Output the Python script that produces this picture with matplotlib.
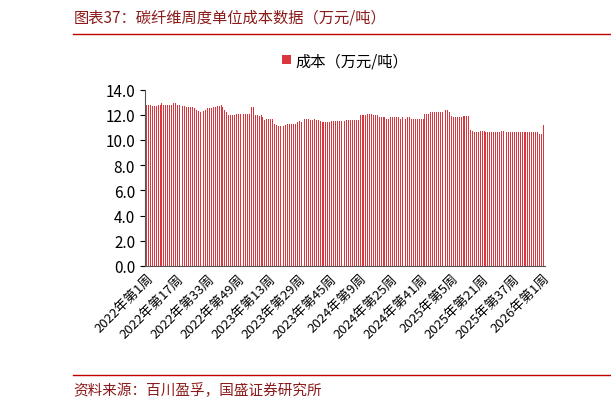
import matplotlib.pyplot as plt

plt.rcParams['font.family'] = ['Noto Sans CJK SC', 'DejaVu Sans']

# weekly cost, 2022 week 1 .. 2026 week 1 (209 weeks)
cost_2022 = [12.8, 12.8, 12.8, 12.7, 12.7, 12.7, 12.8, 12.8, 12.9, 12.8, 12.8, 12.8, 12.8,
             12.8, 12.9, 12.9, 12.8, 12.8, 12.7, 12.7, 12.7, 12.6, 12.6, 12.6, 12.6, 12.5,
             12.4, 12.3, 12.2, 12.2, 12.3, 12.4, 12.5, 12.5, 12.5, 12.6, 12.6, 12.7, 12.7,
             12.8, 12.6, 12.4, 12.2, 12.0, 12.0, 12.0, 12.0, 12.1, 12.1, 12.1, 12.1, 12.1]
cost_2023 = [12.1, 12.1, 12.1, 12.6, 12.6, 12.0, 12.0, 11.9, 12.0, 11.8, 11.6, 11.7, 11.7,
             11.7, 11.7, 11.3, 11.2, 11.1, 11.1, 11.1, 11.1, 11.2, 11.3, 11.3, 11.3, 11.3,
             11.3, 11.4, 11.5, 11.4, 11.4, 11.7, 11.7, 11.7, 11.6, 11.6, 11.7, 11.6, 11.6,
             11.5, 11.4, 11.4, 11.4, 11.4, 11.4, 11.5, 11.5, 11.5, 11.5, 11.5, 11.5, 11.5]
cost_2024 = [11.5, 11.6, 11.6, 11.6, 11.6, 11.6, 11.6, 11.6, 12.0, 12.0, 12.0, 12.0, 12.1,
             12.1, 12.1, 12.0, 12.0, 12.0, 11.8, 11.8, 11.8, 11.8, 11.7, 11.7, 11.8, 11.8,
             11.8, 11.8, 11.8, 11.7, 11.8, 11.7, 11.7, 11.8, 11.8, 11.7, 11.7, 11.7, 11.7,
             11.7, 11.7, 11.7, 12.1, 12.1, 12.1, 12.2, 12.2, 12.2, 12.2, 12.2, 12.2, 12.2]
cost_2025 = [12.3, 12.4, 12.4, 12.2, 11.9, 11.8, 11.8, 11.8, 11.8, 11.8, 11.9, 11.9, 11.9,
             11.9, 10.8, 10.7, 10.6, 10.6, 10.6, 10.7, 10.7, 10.7, 10.6, 10.6, 10.6, 10.6,
             10.6, 10.6, 10.6, 10.6, 10.7, 10.7, 10.7, 10.6, 10.6, 10.6, 10.6, 10.6, 10.6,
             10.6, 10.6, 10.6, 10.6, 10.6, 10.6, 10.6, 10.6, 10.6, 10.6, 10.6, 10.5, 10.5]
cost_2026 = [11.2]
cost = cost_2022 + cost_2023 + cost_2024 + cost_2025 + cost_2026

tick_pos = list(range(0, len(cost), 16))
tick_labels = ['2022年第1周', '2022年第17周', '2022年第33周', '2022年第49周',
               '2023年第13周', '2023年第29周', '2023年第45周',
               '2024年第9周', '2024年第25周', '2024年第41周',
               '2025年第5周', '2025年第21周', '2025年第37周', '2026年第1周']

fig = plt.figure(figsize=(6.11, 4.10), dpi=100)
ax = fig.add_axes([0.237, 0.349, 0.655, 0.43])
ax.bar(range(len(cost)), cost, width=0.5, color='#d9363e', label='成本（万元/吨）')
ax.set_xlim(-1, len(cost))
ax.set_ylim(0, 14)
ax.set_yticks([0, 2, 4, 6, 8, 10, 12, 14])
ax.set_yticklabels([f'{v:.1f}' for v in range(0, 15, 2)], fontsize=11)
ax.set_xticks(tick_pos)
ax.set_xticklabels(tick_labels, rotation=45, ha='right', rotation_mode='anchor', fontsize=9.5)
ax.tick_params(axis='x', length=0, pad=4)
for s in ['top', 'right']:
    ax.spines[s].set_visible(False)
ax.spines['bottom'].set_color('#555555')
ax.spines['left'].set_color('#555555')
ax.legend(loc='center', bbox_to_anchor=(0.5, 1.165), frameon=False, fontsize=11,
          handlelength=0.6, handleheight=0.6, handletextpad=0.3)

fig.text(0.12, 0.955, '图表37：碳纤维周度单位成本数据（万元/吨）', fontsize=11, color='#8b1a1a',
         style='italic', va='center')
fig.add_artist(plt.Line2D([0.12, 1.0], [0.915, 0.915], color='#c00000', lw=1))
fig.add_artist(plt.Line2D([0.12, 1.0], [0.083, 0.083], color='#c00000', lw=1))
fig.text(0.12, 0.048, '资料来源：百川盈孚，国盛证券研究所', fontsize=10.5, color='#8b1a1a',
         style='italic', va='center')

fig.savefig('out.png', dpi=100)
